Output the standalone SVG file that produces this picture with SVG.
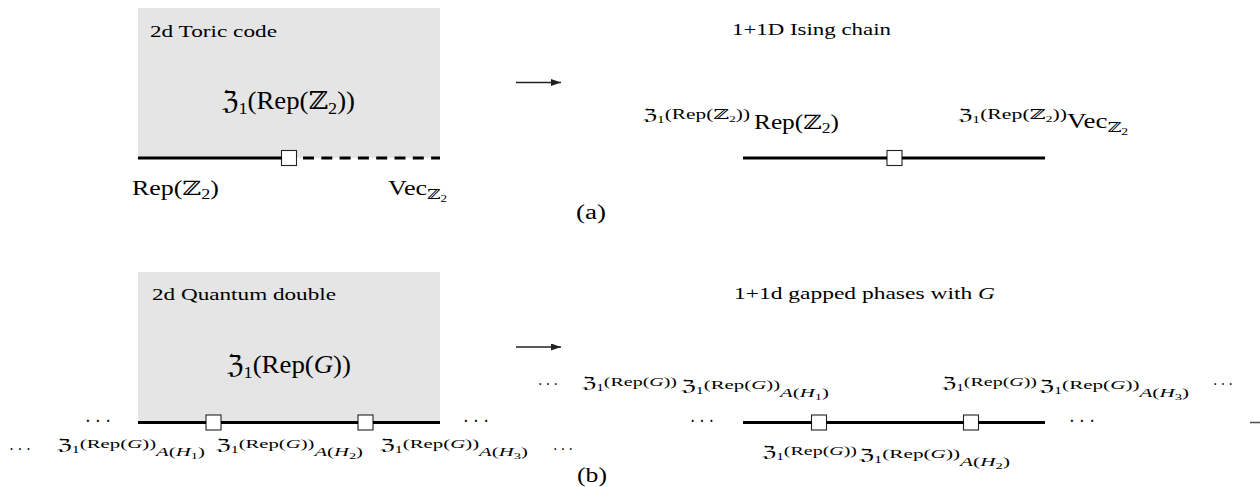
<svg xmlns="http://www.w3.org/2000/svg" width="1260" height="487" viewBox="0 0 1260 487">
<style>
.t{font-family:"Liberation Serif","DejaVu Serif","DejaVu Sans",serif;fill:#000}
.z{font-family:"DejaVu Serif","DejaVu Sans",serif}
.it{font-style:italic}
.box{fill:#e5e5e5;stroke:none}
.wire{stroke:#000;stroke-width:3.2;fill:none}
.dash{stroke:#000;stroke-width:3.2;fill:none;stroke-dasharray:11 7.3}
.sq{fill:#fff;stroke:#222;stroke-width:1.1}
.arr{stroke:#222;stroke-width:1.4;fill:none}
.edge{stroke:#555;stroke-width:1.6}
</style>
<defs>
<marker id="ah" markerWidth="10" markerHeight="7" refX="10" refY="3.5" orient="auto" markerUnits="userSpaceOnUse"><path d="M0,0 L10,3.5 L0,7 z" fill="#222"/></marker>
</defs>

<!-- panel (a) -->
<g id="toric-box">
<rect class="box" x="138" y="8" width="302" height="150"/>
<text class="t" x="150" y="37" font-size="17" textLength="127" lengthAdjust="spacingAndGlyphs">2d Toric code</text>
<text class="t" x="222" y="109" font-size="25" textLength="133" lengthAdjust="spacingAndGlyphs"><tspan class="z">ℨ</tspan><tspan font-size="17" dy="5">1</tspan><tspan dy="-5">(Rep(</tspan><tspan class="z">ℤ</tspan><tspan font-size="17" dy="5">2</tspan><tspan dy="-5">))</tspan></text>
</g>
<g id="toric-left-label"><text class="t" x="132" y="195" font-size="20" textLength="87" lengthAdjust="spacingAndGlyphs">Rep(<tspan class="z">ℤ</tspan><tspan font-size="14" dy="4">2</tspan><tspan dy="-4">)</tspan></text></g>
<g id="toric-right-label"><text class="t" x="388" y="195" font-size="20" textLength="59" lengthAdjust="spacingAndGlyphs">Vec<tspan class="z" font-size="14" dy="4">ℤ</tspan><tspan font-size="10" dy="3">2</tspan></text></g>
<g id="toric-defect"><rect class="sq" x="281.5" y="150.5" width="15" height="15"/></g>

<g id="ising-title"><text class="t" x="732" y="35" font-size="17" textLength="159" lengthAdjust="spacingAndGlyphs">1+1D Ising chain</text></g>
<g id="ising-left-label">
<text class="t" x="643" y="120" font-size="15" textLength="107" lengthAdjust="spacingAndGlyphs"><tspan class="z">ℨ</tspan><tspan font-size="10" dy="3">1</tspan><tspan font-size="14" dy="-4">(Rep(</tspan><tspan class="z" font-size="14">ℤ</tspan><tspan font-size="9" dy="3">2</tspan><tspan font-size="14" dy="-3">))</tspan></text>
<text class="t" x="754" y="129" font-size="20" textLength="85" lengthAdjust="spacingAndGlyphs">Rep(<tspan class="z">ℤ</tspan><tspan font-size="14" dy="4">2</tspan><tspan dy="-4">)</tspan></text>
</g>
<g id="ising-right-label">
<text class="t" x="958" y="120" font-size="15" textLength="109" lengthAdjust="spacingAndGlyphs"><tspan class="z">ℨ</tspan><tspan font-size="10" dy="3">1</tspan><tspan font-size="14" dy="-4">(Rep(</tspan><tspan class="z" font-size="14">ℤ</tspan><tspan font-size="9" dy="3">2</tspan><tspan font-size="14" dy="-3">))</tspan></text>
<text class="t" x="1067" y="128" font-size="20" textLength="61" lengthAdjust="spacingAndGlyphs">Vec<tspan class="z" font-size="14" dy="4">ℤ</tspan><tspan font-size="10" dy="3">2</tspan></text>
</g>
<g id="ising-defect"><rect class="sq" x="887" y="150.5" width="15" height="15"/></g>
<g id="caption-a"><text class="t" x="576" y="219" font-size="20" textLength="30" lengthAdjust="spacingAndGlyphs">(a)</text></g>

<!-- panel (b) -->
<g id="qd-box">
<rect class="box" x="138" y="272" width="302" height="150"/>
<text class="t" x="152" y="300" font-size="17" textLength="184" lengthAdjust="spacingAndGlyphs">2d Quantum double</text>
<text class="t" x="227" y="373" font-size="25" textLength="124" lengthAdjust="spacingAndGlyphs"><tspan class="z">ℨ</tspan><tspan font-size="17" dy="5">1</tspan><tspan dy="-5">(Rep(</tspan><tspan class="it">G</tspan>))</text>
</g>
<g id="qd-dots">
<text class="t" x="85" y="428" font-size="22" textLength="26" lengthAdjust="spacingAndGlyphs">· · ·</text>
<text class="t" x="463" y="428" font-size="22" textLength="26" lengthAdjust="spacingAndGlyphs">· · ·</text>
</g>
<g id="qd-defect-1"><rect class="sq" x="206" y="415" width="15" height="15"/></g>
<g id="qd-defect-2"><rect class="sq" x="358" y="415" width="15" height="15"/></g>
<g id="qd-labels">
<text class="t" x="9" y="455" font-size="17" textLength="22" lengthAdjust="spacingAndGlyphs">· · ·</text>
<text class="t" x="57" y="450" font-size="15" textLength="148" lengthAdjust="spacingAndGlyphs"><tspan class="z">ℨ</tspan><tspan font-size="10" dy="3">1</tspan><tspan font-size="13" dy="-5">(Rep(</tspan><tspan font-size="13" class="it">G</tspan><tspan font-size="13">))</tspan><tspan font-size="13" class="it" dy="8">A</tspan><tspan font-size="13">(</tspan><tspan font-size="13" class="it">H</tspan><tspan font-size="9" dy="3">1</tspan><tspan font-size="13" dy="-3">)</tspan></text>
<text class="t" x="216" y="450" font-size="15" textLength="147" lengthAdjust="spacingAndGlyphs"><tspan class="z">ℨ</tspan><tspan font-size="10" dy="3">1</tspan><tspan font-size="13" dy="-5">(Rep(</tspan><tspan font-size="13" class="it">G</tspan><tspan font-size="13">))</tspan><tspan font-size="13" class="it" dy="8">A</tspan><tspan font-size="13">(</tspan><tspan font-size="13" class="it">H</tspan><tspan font-size="9" dy="3">2</tspan><tspan font-size="13" dy="-3">)</tspan></text>
<text class="t" x="380" y="450" font-size="15" textLength="148" lengthAdjust="spacingAndGlyphs"><tspan class="z">ℨ</tspan><tspan font-size="10" dy="3">1</tspan><tspan font-size="13" dy="-5">(Rep(</tspan><tspan font-size="13" class="it">G</tspan><tspan font-size="13">))</tspan><tspan font-size="13" class="it" dy="8">A</tspan><tspan font-size="13">(</tspan><tspan font-size="13" class="it">H</tspan><tspan font-size="9" dy="3">3</tspan><tspan font-size="13" dy="-3">)</tspan></text>
<text class="t" x="553" y="455" font-size="17" textLength="20" lengthAdjust="spacingAndGlyphs">· · ·</text>
</g>

<g id="gapped-title"><text class="t" x="734" y="299" font-size="17" textLength="261" lengthAdjust="spacingAndGlyphs">1+1d gapped phases with <tspan class="it">G</tspan></text></g>
<g id="gapped-upper-labels">
<text class="t" x="538" y="390" font-size="17" textLength="20" lengthAdjust="spacingAndGlyphs">· · ·</text>
<text class="t" x="582" y="388" font-size="15" textLength="95" lengthAdjust="spacingAndGlyphs"><tspan class="z">ℨ</tspan><tspan font-size="10" dy="3">1</tspan><tspan font-size="13" dy="-5">(Rep(</tspan><tspan font-size="13" class="it">G</tspan><tspan font-size="13">))</tspan></text>
<text class="t" x="681" y="391" font-size="15" textLength="148" lengthAdjust="spacingAndGlyphs"><tspan class="z">ℨ</tspan><tspan font-size="10" dy="3">1</tspan><tspan font-size="13" dy="-5">(Rep(</tspan><tspan font-size="13" class="it">G</tspan><tspan font-size="13">))</tspan><tspan font-size="13" class="it" dy="8">A</tspan><tspan font-size="13">(</tspan><tspan font-size="13" class="it">H</tspan><tspan font-size="9" dy="3">1</tspan><tspan font-size="13" dy="-3">)</tspan></text>
<text class="t" x="942" y="388" font-size="15" textLength="95" lengthAdjust="spacingAndGlyphs"><tspan class="z">ℨ</tspan><tspan font-size="10" dy="3">1</tspan><tspan font-size="13" dy="-5">(Rep(</tspan><tspan font-size="13" class="it">G</tspan><tspan font-size="13">))</tspan></text>
<text class="t" x="1039" y="391" font-size="15" textLength="150" lengthAdjust="spacingAndGlyphs"><tspan class="z">ℨ</tspan><tspan font-size="10" dy="3">1</tspan><tspan font-size="13" dy="-5">(Rep(</tspan><tspan font-size="13" class="it">G</tspan><tspan font-size="13">))</tspan><tspan font-size="13" class="it" dy="8">A</tspan><tspan font-size="13">(</tspan><tspan font-size="13" class="it">H</tspan><tspan font-size="9" dy="3">3</tspan><tspan font-size="13" dy="-3">)</tspan></text>
<text class="t" x="1213" y="390" font-size="17" textLength="20" lengthAdjust="spacingAndGlyphs">· · ·</text>
</g>
<g id="gapped-dots">
<text class="t" x="690" y="428" font-size="22" textLength="24" lengthAdjust="spacingAndGlyphs">· · ·</text>
<text class="t" x="1069" y="428" font-size="22" textLength="26" lengthAdjust="spacingAndGlyphs">· · ·</text>
</g>
<g id="gapped-defect-1"><rect class="sq" x="811.5" y="415" width="15" height="15"/></g>
<g id="gapped-defect-2"><rect class="sq" x="963.5" y="415" width="15" height="15"/></g>
<g id="gapped-lower-labels">
<text class="t" x="762" y="457" font-size="15" textLength="95" lengthAdjust="spacingAndGlyphs"><tspan class="z">ℨ</tspan><tspan font-size="10" dy="3">1</tspan><tspan font-size="13" dy="-5">(Rep(</tspan><tspan font-size="13" class="it">G</tspan><tspan font-size="13">))</tspan></text>
<text class="t" x="859" y="460" font-size="15" textLength="151" lengthAdjust="spacingAndGlyphs"><tspan class="z">ℨ</tspan><tspan font-size="10" dy="3">1</tspan><tspan font-size="13" dy="-5">(Rep(</tspan><tspan font-size="13" class="it">G</tspan><tspan font-size="13">))</tspan><tspan font-size="13" class="it" dy="8">A</tspan><tspan font-size="13">(</tspan><tspan font-size="13" class="it">H</tspan><tspan font-size="9" dy="3">2</tspan><tspan font-size="13" dy="-3">)</tspan></text>
</g>
<g id="caption-b"><text class="t" x="577" y="482" font-size="20" textLength="30" lengthAdjust="spacingAndGlyphs">(b)</text></g>

<g id="connectors">
<line class="wire" x1="138" y1="158" x2="282" y2="158"/>
<line class="dash" x1="303" y1="158" x2="440" y2="158"/>
<line class="wire" x1="743" y1="158" x2="887" y2="158"/>
<line class="wire" x1="902" y1="158" x2="1045" y2="158"/>
<line class="arr" x1="516" y1="82.5" x2="561" y2="82.5" marker-end="url(#ah)"/>
<line class="wire" x1="138" y1="422.5" x2="206" y2="422.5"/>
<line class="wire" x1="221" y1="422.5" x2="358" y2="422.5"/>
<line class="wire" x1="373" y1="422.5" x2="440" y2="422.5"/>
<line class="arr" x1="516" y1="347" x2="561" y2="347" marker-end="url(#ah)"/>
<line class="wire" x1="743" y1="422.5" x2="811.5" y2="422.5"/>
<line class="wire" x1="826.5" y1="422.5" x2="963.5" y2="422.5"/>
<line class="wire" x1="978.5" y1="422.5" x2="1045" y2="422.5"/>
<line class="edge" x1="1250" y1="422.5" x2="1260" y2="422.5"/>
</g>
</svg>
